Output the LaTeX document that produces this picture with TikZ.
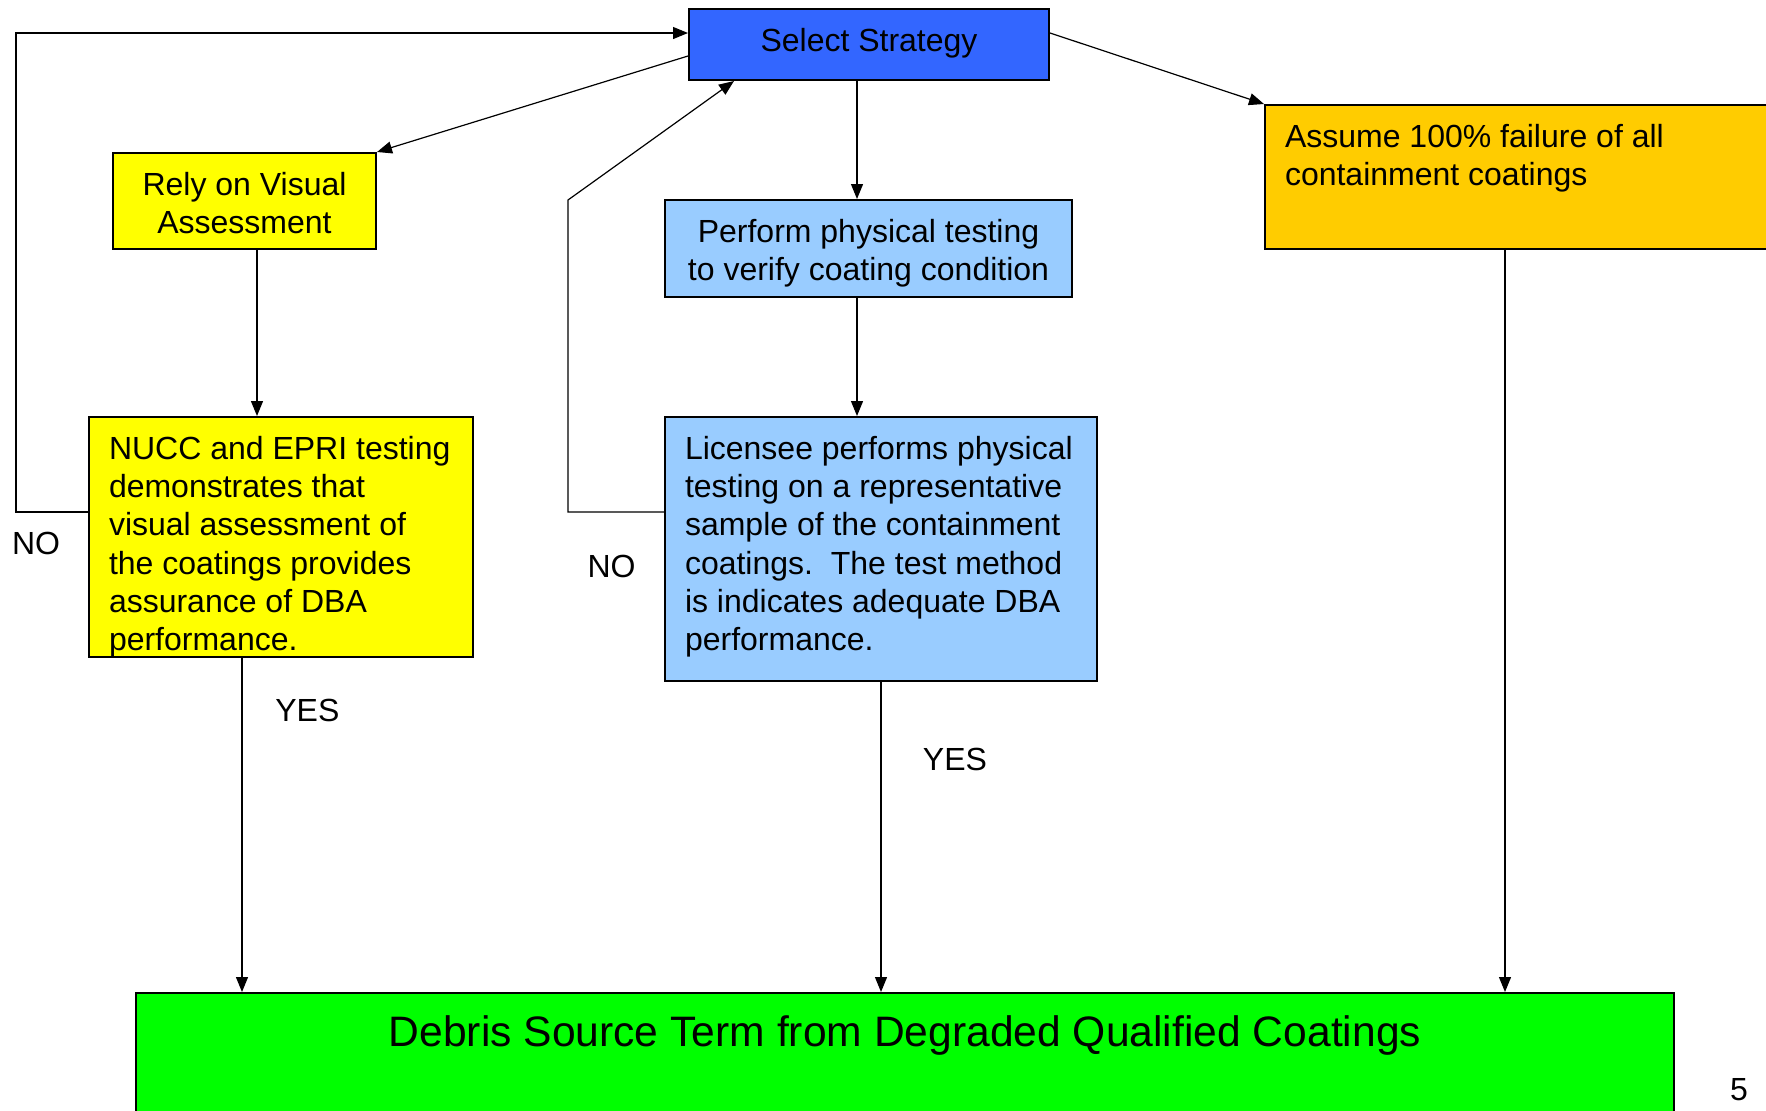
\documentclass[tikz,border=0pt]{standalone}
\usepackage{fontspec}
\setmainfont{Liberation Sans}
\usetikzlibrary{arrows.meta}
\definecolor{selblue}{RGB}{51,102,255}
\definecolor{visyellow}{RGB}{255,255,0}
\definecolor{testblue}{RGB}{153,204,255}
\definecolor{failorange}{RGB}{255,204,0}
\definecolor{termgreen}{RGB}{0,255,0}
\newcommand{\toptext}[3]{\parbox[c][#2][t]{#1}{\raggedright\strut #3}}
\newcommand{\midtext}[3]{\parbox[c][#2][t]{#1}{\centering\strut #3}}

\begin{document}
\begin{tikzpicture}[x=1pt,y=-1pt,
  topbox/.style={draw,line width=1pt,inner xsep=10pt,inner ysep=7.7pt,font=\fontsize{16}{19.15}\selectfont},
  conn/.style={line width=0.6pt,-{Triangle[length=7.5pt,width=6pt]}},
  answer/.style={font=\fontsize{16}{19.15}\selectfont}]
% canvas is in points, y grows downwards, boxes placed at their centres
\clip (0,0) rectangle (883,555);
\node[topbox,fill=selblue] (strategy) at (434.5,22.25) {\midtext{160pt}{20.1pt}{Select Strategy}};
\node[topbox,fill=visyellow] (visual) at (122.25,100.5) {\midtext{111.5pt}{32.6pt}{Rely on Visual\\Assessment}};
\node[topbox,fill=testblue] (physical) at (434.25,124.25) {\midtext{183.5pt}{33.1pt}{Perform physical testing\\to verify coating condition}};
\node[topbox,fill=failorange] (failure) at (761.25,88.5) {\toptext{237.5pt}{56.6pt}{Assume 100\% failure of all\\containment coatings}};
\node[topbox,fill=visyellow] (nucc) at (140.5,268.5) {\toptext{172pt}{104.6pt}{NUCC and EPRI testing\\demonstrates that\\visual assessment of\\the coatings provides\\assurance of DBA\\performance.}};
\node[topbox,fill=testblue] (licensee) at (440.5,274.5) {\toptext{196pt}{116.6pt}{Licensee performs physical\\testing on a representative\\sample of the containment\\coatings.\ \ The test method\\is indicates adequate DBA\\performance.}};
\node[draw,line width=1pt,fill=termgreen,inner xsep=10pt,inner ysep=9pt,font=\fontsize{21.3}{25.5}\selectfont] (debris) at (452.5,530.75)
  {\parbox[c][50.5pt][t]{749pt}{\centering\strut Debris Source Term from Degraded Qualified Coatings}};

\node[answer] (noleft) at (18,271.5) {NO};
\node[answer] (nomid) at (305.8,283.3) {NO};
\node[answer] (yesleft) at (153.7,355.3) {YES};
\node[answer] (yesmid) at (477.5,379.6) {YES};
\node[answer] (pagenum) at (869.5,545) {5};

\draw[conn] ([yshift=-5.75pt]strategy.west) -- (visual.north east);
\draw[conn] ([yshift=5.75pt]strategy.east) -- (failure.north west);
\draw[conn] ([xshift=-6pt]strategy.south) -- ([xshift=-5.75pt]physical.north);
\draw[conn] ([xshift=6.25pt]visual.south) -- ([xshift=-12pt]nucc.north);
\draw[conn] ([xshift=-5.75pt]physical.south) -- ([xshift=-12pt]licensee.north);
\draw[conn] ([yshift=12.5pt]nucc.west) -- ++(-36,0) |- ([yshift=5.75pt]strategy.west);
\draw[conn] ([yshift=18.5pt]licensee.west) -- ++(-48,0) -- ++(0,-156) -- ([xshift=23pt]strategy.south west);
\draw[conn] ([xshift=-19.5pt]nucc.south) coordinate (nuccfoot) -- (nuccfoot |- debris.north);
\draw[conn] (licensee.south) -- (licensee.south |- debris.north);
\draw[conn] ([xshift=-8.75pt]failure.south) coordinate (failfoot) -- (failfoot |- debris.north);
\end{tikzpicture}
\end{document}
